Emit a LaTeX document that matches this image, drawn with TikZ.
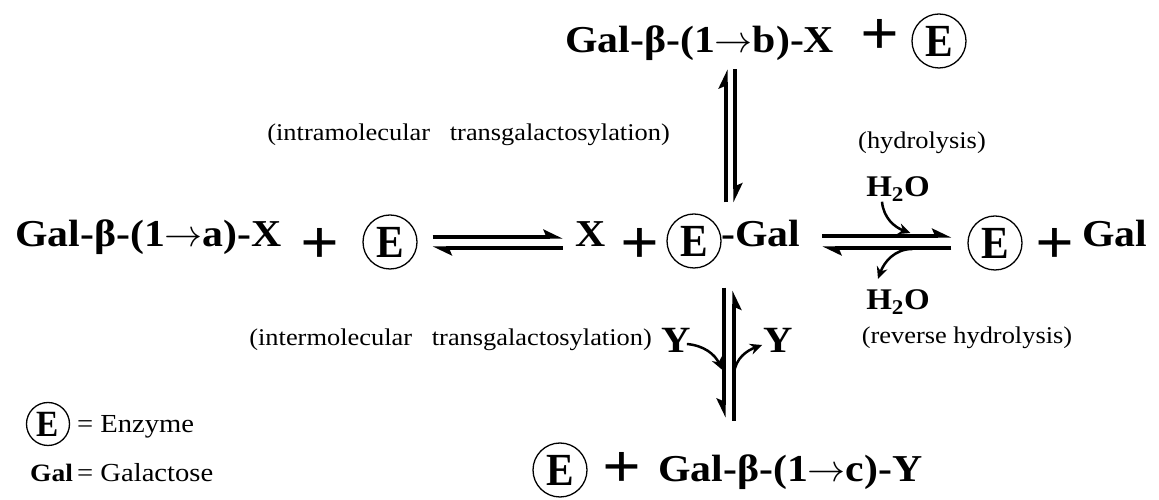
\documentclass[tikz,border=0pt]{standalone}
\usepackage{fix-cm}
\usepackage{fontspec}
\setmainfont{Liberation Serif}[FakeStretch=1.1]
\newfontfamily\efont{Liberation Serif}[FakeStretch=0.9]
\newcommand\bto{\ensuremath{\rightarrow}}
\usetikzlibrary{arrows.meta,calc}

\begin{document}
\begin{tikzpicture}[x=1pt,y=1pt,
  chem/.style={font=\fontsize{38}{40}\selectfont\bfseries,inner sep=0pt},
  plus/.style={font=\fontsize{62}{62}\selectfont\bfseries,inner sep=0pt},
  note/.style={font=\fontsize{24}{26}\selectfont,inner sep=0pt},
  water/.style={font=\fontsize{30}{32}\selectfont\bfseries,inner sep=0pt},
  enz/.style={circle,draw,line width=1.3pt,minimum size=54pt,inner sep=0pt,
    font=\efont\fontsize{46}{46}\selectfont\bfseries},
  fwd/.style={line width=3.1pt,-{Stealth[harpoon,length=16pt,width=15pt,inset=3pt]}},
  bwd/.style={line width=3.1pt,-{Stealth[harpoon,swap,length=16pt,width=15pt,inset=3pt]}},
  curvearr/.style={line width=2.5pt,-{Stealth[length=12pt,width=11pt]}}]
  \useasboundingbox (0,0) rectangle (1159,500);

  % main row
  \node[chem,anchor=base west] (sub) at (15,253) {Gal-β-(1\bto a)-X};
  \node[plus] (p1) at (320,254) {+};
  \node[enz] (e1) at (390,258) {E};
  \node[chem,anchor=base] (xx) at (591,253) {X};
  \node[plus] (p2) at (640,254) {+};
  \node[enz] (e2) at (694,259) {E};
  \node[chem,anchor=base west] (gal) at (721,253) {-Gal};
  \node[enz] (e3) at (995,257) {E};
  \node[plus] (p3) at (1055,254) {+};
  \node[chem,anchor=base west] (gal2) at (1082,253) {Gal};

  % top row
  \node[chem,anchor=base west] (tb) at (565,447) {Gal-β-(1\bto b)-X};
  \node[plus] (p4) at (880,463) {+};
  \node[enz] (e4) at (939,459) {E};

  % bottom row
  \node[enz] (e5) at (560,30) {E};
  \node[plus] (p5) at (622,30) {+};
  \node[chem,anchor=base west] (tc) at (658,18) {Gal-β-(1\bto c)-Y};

  % labels
  \node[note,anchor=east] (intra) at (670,365) {(intramolecular~~~transgalactosylation)};
  \node[note,anchor=east] (inter) at (652,160) {(intermolecular~~~transgalactosylation)};
  \node[note] (hyd) at (922,357) {(hydrolysis)};
  \node[note] (rev) at (967,162) {(reverse hydrolysis)};
  \node[water,anchor=base] (h2oa) at (898,303) {H\textsubscript{2}O};
  \node[water,anchor=base] (h2ob) at (898,190) {H\textsubscript{2}O};
  \node[chem,font=\fontsize{37}{37}\selectfont\bfseries] (yl) at (676,160) {Y};
  \node[chem,font=\fontsize{37}{37}\selectfont\bfseries] (yr) at (778,160) {Y};

  % legend
  \node[enz,minimum size=43pt,font=\efont\fontsize{37}{37}\selectfont\bfseries] (le) at (48,76) {E};
  \node[note,font=\fontsize{26}{28}\selectfont,anchor=base west] (lt1) at (77,67) {= Enzyme};
  \node[chem,font=\fontsize{25}{27}\selectfont\bfseries,anchor=base west] (lg) at (30,18) {Gal};
  \node[note,font=\fontsize{26}{28}\selectfont,anchor=base west] (lt2) at (77,18) {= Galactose};

  % substrate <=> galactosyl-enzyme
  \draw[fwd] ($(e1.east)+(15,5)$) -- ($(xx.west |- e1.east)+(-13,5)$);
  \draw[fwd] ($(xx.west |- e1.east)+(-13,-6)$) -- ($(e1.east)+(15,-6)$);

  % hydrolysis
  \draw[fwd] ($(gal.east |- e3.west)+(22,7)$) -- ($(e3.west)+(-16,7)$);
  \draw[fwd] ($(e3.west)+(-16,-5)$) -- ($(gal.east |- e3.west)+(22,-5)$);
  \draw[curvearr] ($(h2oa.south)+(-16,0)$) to[out=-85,in=160] ($(e3.west)+(-57,10)$);
  \draw[curvearr] ($(e3.west)+(-55,-6)$) to[out=180,in=70] ($(h2ob.north)+(-20,11)$);

  % intramolecular branch
  \draw[fwd] ($(e2.north)+(32,11)$) -- ($(e2.north)+(32,144)$);
  \draw[fwd] ($(e2.north)+(41,144)$) -- ($(e2.north)+(41,11)$);

  % intermolecular branch
  \draw[bwd] ($(e2.south)+(30,-19)$) -- ($(e2.south)+(30,-149)$);
  \draw[bwd] ($(e2.south)+(40,-152)$) -- ($(e2.south)+(40,-22)$);
  \draw[curvearr] ($(yl.east)+(-4,-4)$) to[out=-5,in=115] ($(e2.south)+(28,-101)$);
  \draw[curvearr] ($(e2.south)+(40,-105)$) to[out=85,in=200] ($(yr.west)+(-1,-5)$);
\end{tikzpicture}
\end{document}
